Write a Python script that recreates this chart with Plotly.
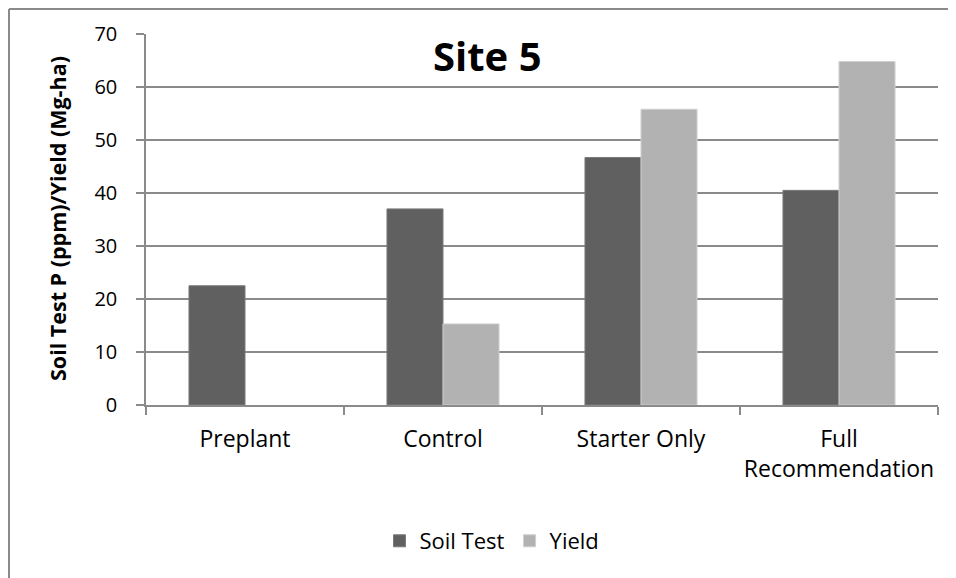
import plotly.graph_objects as go

categories = ["Preplant", "Control", "Starter Only", "Full<br>Recommendation"]
soil_test = [22.5, 37.0, 46.7, 40.5]
yield_vals = [None, 15.3, 55.8, 64.8]
y_ticks = [0, 10, 20, 30, 40, 50, 60, 70]

# page body has an 8px margin, so the figure starts at (8, 8) on the page
OFF = 8
W, H = 956 - OFF, 578 - OFF
L, R, T, B = 146 - OFF, 18, 34 - OFF, 181 - OFF
pw, ph = W - L - R, H - T - B

def px(x):  # page x -> paper
    return (x - OFF - L) / pw

def py(y):  # page y -> paper
    return (T + ph - (y - OFF)) / ph

FONT = "Open Sans"
GRID = "#8a8a8a"

fig = go.Figure()
fig.add_trace(go.Bar(name="Soil Test", x=categories, y=soil_test,
                     marker=dict(color="#606060", line=dict(color="#7a7a7a", width=1))))
fig.add_trace(go.Bar(name="Yield", x=categories, y=yield_vals,
                     marker=dict(color="#b2b2b2", line=dict(color="#cfcfcf", width=1))))

fig.update_layout(
    width=W, height=H,
    margin=dict(l=L, r=R, t=T, b=B, autoexpand=False),
    paper_bgcolor="white", plot_bgcolor="white",
    barmode="group", bargap=0.434, bargroupgap=0,
    font=dict(family=FONT, size=20, color="#000000"),
    showlegend=True,
    legend=dict(orientation="h", x=px(492), y=py(541), xanchor="center", yanchor="middle",
                font=dict(family=FONT, size=22, color="#000000"), traceorder="normal"),
    xaxis=dict(type="category", showline=True, linecolor=GRID, linewidth=1.5,
               ticks="outside", ticklen=8, tickcolor=GRID, tickwidth=1.5,
               tickson="boundaries", showgrid=False, ticklabelstandoff=13, tickangle=0,
               tickfont=dict(family=FONT, size=23, color="#000000")),
    yaxis=dict(range=[0, 70], tickvals=y_ticks, showline=True, linecolor=GRID, linewidth=1.5,
               ticks="outside", ticklen=8, tickcolor=GRID, tickwidth=1.5,
               showgrid=True, gridcolor=GRID, gridwidth=1.5, zeroline=False,
               ticklabelstandoff=15,
               tickfont=dict(family=FONT, size=20, color="#000000")),
    annotations=[
        dict(text="<b>Site 5</b>", x=px(487), y=py(55), xref="paper", yref="paper",
             showarrow=False, xanchor="center", yanchor="middle",
             font=dict(family=FONT, size=40, color="#000000")),
        dict(text="<b>Soil Test P (ppm)/Yield (Mg-ha)</b>", x=px(57), y=py(219),
             xref="paper", yref="paper", showarrow=False, textangle=-90,
             xanchor="center", yanchor="middle",
             font=dict(family=FONT, size=21.5, color="#000000")),
    ],
    shapes=[
        dict(type="line", xref="paper", yref="paper", x0=px(9), x1=px(9),
             y0=py(9), y1=py(600), line=dict(color="#8a8a8a", width=2)),
        dict(type="line", xref="paper", yref="paper", x0=px(9), x1=px(980),
             y0=py(9), y1=py(9), line=dict(color="#8a8a8a", width=2)),
    ],
)

fig.write_html("out.html", config={"displayModeBar": False})
